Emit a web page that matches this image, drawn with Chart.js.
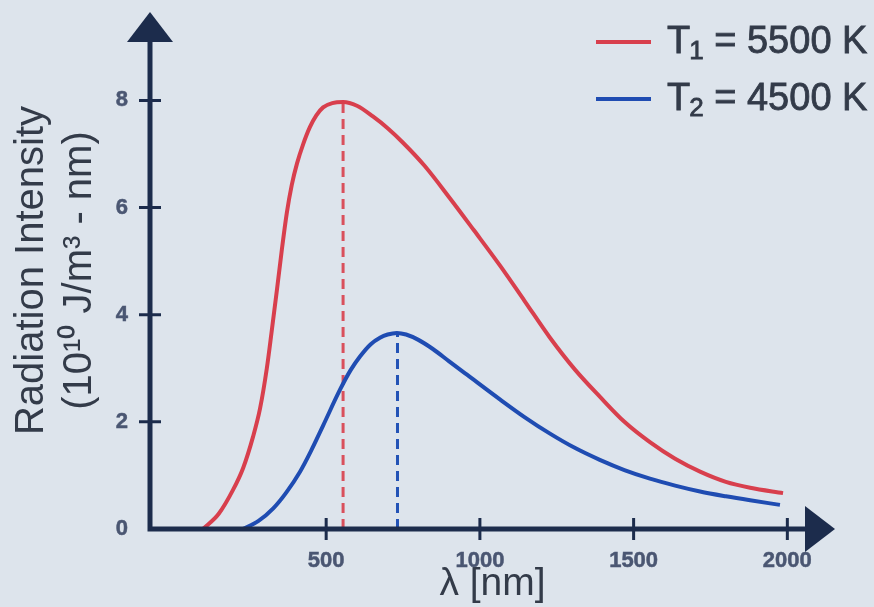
<!DOCTYPE html>
<html>
<head>
<meta charset="utf-8">
<script src="https://cdn.jsdelivr.net/npm/chart.js@4.4.1/dist/chart.umd.min.js"></script>
<style>
  html, body { margin: 0; padding: 0; background: #dde4ec; }
  #wrap { width: 874px; height: 607px; }
</style>
</head>
<body>
<div id="wrap"><canvas id="chart"></canvas></div>
<script>
// wavelength (nm) and intensity (10^10 J/m^3 - nm)
const hotLambda = [99, 150, 197, 230, 262, 285, 307, 323, 340, 356, 372, 388, 405, 425, 447, 468, 490, 520, 555, 600, 652, 700, 750, 820, 903, 980, 1065, 1145, 1228, 1310, 1390, 1470, 1553, 1635, 1716, 1800, 1879, 1986];
const hotValues = [0, 0.28, 0.73, 1.14, 1.72, 2.25, 3.0, 3.7, 4.47, 5.22, 5.9, 6.42, 6.82, 7.18, 7.5, 7.72, 7.87, 7.95, 7.97, 7.9, 7.7, 7.48, 7.21, 6.78, 6.17, 5.58, 4.92, 4.26, 3.57, 2.97, 2.47, 2.0, 1.62, 1.31, 1.07, 0.88, 0.77, 0.67];
const coolLambda = [229, 280, 327, 370, 415, 450, 490, 545, 580, 610, 645, 675, 700, 730, 760, 800, 847, 900, 958, 1065, 1145, 1228, 1310, 1390, 1470, 1553, 1635, 1716, 1800, 1879, 1976];
const coolValues = [0, 0.15, 0.38, 0.68, 1.07, 1.45, 1.93, 2.6, 2.97, 3.22, 3.45, 3.57, 3.63, 3.66, 3.63, 3.53, 3.36, 3.13, 2.88, 2.42, 2.09, 1.78, 1.51, 1.29, 1.1, 0.94, 0.81, 0.7, 0.61, 0.535, 0.45];
const seriesNames = ['T₁ = 5500 K', 'T₂ = 4500 K'];
const peakLambda = [555, 732];
const peakValues = [7.97, 3.66];
const xTicks = [500, 1000, 1500, 2000];
const yTicks = [0, 2, 4, 6, 8];

const RED = '#d83f4d';
const BLUE = '#1f4cb2';
const AXIS = '#1c2c4c';
const TEXT = '#333b49';
const TICK_TEXT = '#4a5672';
const FONT = '"Liberation Sans", Arial, sans-serif';

const toPoints = (xs, ys) => xs.map((v, i) => ({ x: v, y: ys[i] }));

// background fill
const bgPlugin = {
  id: 'bg',
  beforeDraw(chart) {
    const ctx = chart.ctx;
    ctx.save();
    ctx.fillStyle = '#dde4ec';
    ctx.fillRect(0, 0, chart.width, chart.height);
    ctx.restore();
  }
};

// axes with arrow heads and crossing tick marks
const axesPlugin = {
  id: 'arrowAxes',
  afterDatasetsDraw(chart) {
    const { ctx, chartArea, scales: { x, y } } = chart;
    const x0 = chartArea.left;
    const y0 = y.getPixelForValue(0);
    ctx.save();
    ctx.strokeStyle = AXIS;
    ctx.fillStyle = AXIS;
    ctx.lineWidth = 5;
    ctx.beginPath();
    ctx.moveTo(x0, y0 + 2.5);
    ctx.lineTo(x0, chartArea.top + 25);
    ctx.moveTo(x0 - 2.5, y0);
    ctx.lineTo(chartArea.right - 25, y0);
    ctx.stroke();

    ctx.beginPath();
    ctx.moveTo(x0, chartArea.top);
    ctx.lineTo(x0 - 23, chartArea.top + 30);
    ctx.lineTo(x0 + 23, chartArea.top + 30);
    ctx.closePath();
    ctx.fill();

    ctx.beginPath();
    ctx.moveTo(chartArea.right, y0);
    ctx.lineTo(chartArea.right - 30, y0 - 23);
    ctx.lineTo(chartArea.right - 30, y0 + 23);
    ctx.closePath();
    ctx.fill();

    ctx.lineWidth = 3;
    ctx.beginPath();
    y.ticks.forEach(t => {
      if (t.value === 0) return;
      const py = y.getPixelForValue(t.value);
      ctx.moveTo(x0 - 11, py);
      ctx.lineTo(x0 + 11, py);
    });
    x.ticks.forEach(t => {
      const px = x.getPixelForValue(t.value);
      ctx.moveTo(px, y0 - 11);
      ctx.lineTo(px, y0 + 11);
    });
    ctx.stroke();
    ctx.restore();
  }
};

// legend in the top right corner, subscripts drawn smaller
const legendPlugin = {
  id: 'cornerLegend',
  afterDraw(chart) {
    const ctx = chart.ctx;
    const baselines = [53, 110];
    chart.data.datasets.slice(0, 2).forEach((ds, i) => {
      const base = baselines[i];
      ctx.save();
      ctx.strokeStyle = ds.borderColor;
      ctx.lineWidth = 4;
      ctx.beginPath();
      ctx.moveTo(596, base - 11);
      ctx.lineTo(651, base - 11);
      ctx.stroke();

      const parts = ds.label.split(/([\u2080-\u2089])/);
      let cx = 667;
      ctx.fillStyle = TEXT;
      ctx.strokeStyle = TEXT;
      ctx.lineWidth = 0.8;
      ctx.textBaseline = 'alphabetic';
      parts.forEach(p => {
        if (/[\u2080-\u2089]/.test(p)) {
          const digit = String.fromCharCode(p.charCodeAt(0) - 0x2080 + 48);
          ctx.font = '26px ' + FONT;
          ctx.fillText(digit, cx - 1, base + 6);
          ctx.strokeText(digit, cx - 1, base + 6);
          cx += ctx.measureText(digit).width - 1;
        } else {
          ctx.font = '38px ' + FONT;
          ctx.fillText(p, cx, base);
          ctx.strokeText(p, cx, base);
          cx += ctx.measureText(p).width;
        }
      });
      ctx.restore();
    });
  }
};

new Chart(document.getElementById('chart'), {
  type: 'line',
  data: {
    datasets: [
      {
        label: seriesNames[0],
        data: toPoints(hotLambda, hotValues),
        borderColor: RED,
        borderWidth: 4,
        pointRadius: 0,
        cubicInterpolationMode: 'monotone'
      },
      {
        label: seriesNames[1],
        data: toPoints(coolLambda, coolValues),
        borderColor: BLUE,
        borderWidth: 4,
        pointRadius: 0,
        cubicInterpolationMode: 'monotone'
      },
      {
        label: 'peak 1',
        data: [{ x: peakLambda[0], y: 0 }, { x: peakLambda[0], y: peakValues[0] }],
        borderColor: '#d9505c',
        borderWidth: 3,
        borderDash: [10, 6],
        pointRadius: 0
      },
      {
        label: 'peak 2',
        data: [{ x: peakLambda[1], y: 0 }, { x: peakLambda[1], y: peakValues[1] }],
        borderColor: '#2353b6',
        borderWidth: 3,
        borderDash: [10, 6],
        pointRadius: 0
      }
    ]
  },
  options: {
    responsive: true,
    maintainAspectRatio: false,
    animation: false,
    layout: { padding: { top: 12, right: 39, left: 0, bottom: 0 } },
    plugins: {
      legend: { display: false },
      tooltip: { enabled: false }
    },
    scales: {
      x: {
        type: 'linear',
        min: -73,
        max: 2155,
        grid: { display: false, drawTicks: true, tickLength: 21 },
        border: { display: false },
        afterBuildTicks: s => { s.ticks = xTicks.map(v => ({ value: v })); },
        afterFit: s => { s.height = 78; },
        ticks: {
          padding: 0,
          color: TICK_TEXT,
          textStrokeColor: TICK_TEXT,
          textStrokeWidth: 0.5,
          callback: v => String(v),
          font: { family: FONT, size: 22, weight: 'bold', lineHeight: 1 }
        },
        title: {
          display: true,
          text: 'λ [nm]',
          color: TEXT,
          padding: { top: 0, bottom: 3 },
          font: { family: FONT, size: 39, lineHeight: 1 }
        }
      },
      y: {
        min: 0,
        max: 9.65,
        grid: { display: false, drawTicks: true, tickLength: 22 },
        border: { display: false },
        afterBuildTicks: s => { s.ticks = yTicks.map(v => ({ value: v })); },
        afterFit: s => { s.width = 150; },
        ticks: {
          padding: 0,
          color: TICK_TEXT,
          textStrokeColor: TICK_TEXT,
          textStrokeWidth: 0.5,
          font: { family: FONT, size: 22, weight: 'bold', lineHeight: 1 }
        },
        title: {
          display: true,
          text: ['Radiation Intensity', '(10¹⁰ J/m³ - nm)'],
          color: TEXT,
          padding: { top: 8, bottom: 0 },
          font: { family: FONT, size: 40, lineHeight: 1.2 }
        }
      }
    }
  },
  plugins: [bgPlugin, axesPlugin, legendPlugin]
});
</script>
</body>
</html>
